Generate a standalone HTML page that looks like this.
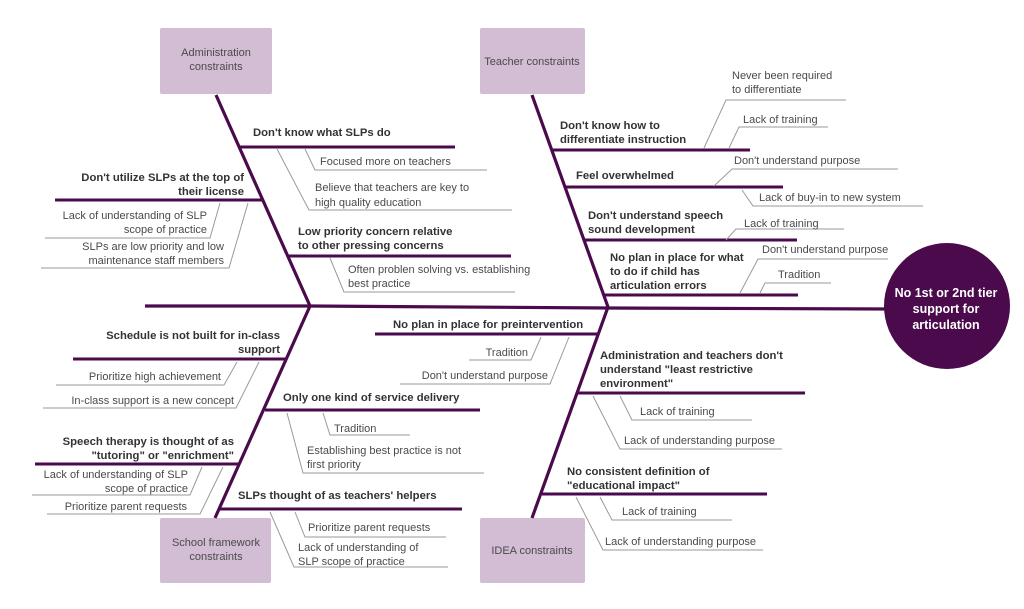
<!DOCTYPE html>
<html><head><meta charset="utf-8"><style>
html,body{margin:0;padding:0;background:#fff;}
svg{display:block;}
text{font-family:"Liberation Sans",sans-serif;font-size:11px;fill:#4a4a4a;}
.b{font-weight:bold;fill:#333;font-size:11.3px;}
.r{text-anchor:end;}
.c{text-anchor:middle;}
.m{stroke:#4a0a4c;stroke-width:3.2;fill:none;}
.k{stroke:#4a0a4c;stroke-width:3;fill:none;}
.t{stroke:#9a9a9a;stroke-width:1;fill:none;}
.box{fill:#d3bdd4;}
.bt{fill:#4a4a4a;font-size:11px;text-anchor:middle;}
</style></head><body>
<svg width="1024" height="609" viewBox="0 0 1024 609">
<rect class="box" x="160" y="28" width="112" height="66" rx="2"/>
<text class="bt" x="216" y="56">Administration</text><text class="bt" x="216" y="70">constraints</text>
<rect class="box" x="480" y="28" width="105" height="66" rx="2"/>
<text class="bt" x="532" y="65">Teacher constraints</text>
<rect class="box" x="160" y="518" width="111" height="65" rx="2"/>
<text class="bt" x="216" y="546">School framework</text><text class="bt" x="216" y="560">constraints</text>
<rect class="box" x="480" y="518" width="105" height="65" rx="2"/>
<text class="bt" x="532" y="554">IDEA constraints</text>

<path class="m" d="M145 306 L310 306 L608 308 L890 309"/>
<path class="m" d="M216 95 L310 306 L215 518"/>
<path class="m" d="M532 95 L608 307 L532 518"/>
<circle cx="947" cy="306" r="63" fill="#4a0a4c"/>
<text class="c" x="946" y="297" style="fill:#fff;font-weight:bold;font-size:12.5px">No 1st or 2nd tier</text>
<text class="c" x="946" y="313" style="fill:#fff;font-weight:bold;font-size:12.5px">support for</text>
<text class="c" x="946" y="329" style="fill:#fff;font-weight:bold;font-size:12.5px">articulation</text>

<text class="b" x="253" y="136">Don't know what SLPs do</text>
<path class="k" d="M240 147 L455 147"/>
<path class="t" d="M305 149 L315 170 L487 170"/><text x="320" y="165">Focused more on teachers</text>
<path class="t" d="M277 149 L309 210 L512 210"/><text x="315" y="191">Believe that teachers are key to</text><text x="315" y="206">high quality education</text>

<text class="b r" x="244" y="181">Don't utilize SLPs at the top of</text><text class="b r" x="244" y="195">their license</text>
<path class="k" d="M55 200 L262 200"/>
<path class="t" d="M220 203 L210 238 L45 238"/><text class="r" x="207" y="219">Lack of understanding of SLP</text><text class="r" x="207" y="233">scope of practice</text>
<path class="t" d="M248 203 L229 268 L41 268"/><text class="r" x="224" y="250">SLPs are low priority and low</text><text class="r" x="224" y="264">maintenance staff members</text>

<text class="b" x="298" y="235">Low priority concern relative</text><text class="b" x="298" y="249">to other pressing concerns</text>
<path class="k" d="M288 256 L511 256"/>
<path class="t" d="M330 258 L344 292 L515 292"/><text x="348" y="273">Often problen solving vs. establishing</text><text x="348" y="287">best practice</text>

<text class="b" x="560" y="129">Don't know how to</text><text class="b" x="560" y="143">differentiate instruction</text>
<path class="k" d="M553 150 L750 150"/>
<path class="t" d="M704 148 L726 100 L846 100"/><text x="732" y="79">Never been required</text><text x="732" y="93">to differentiate</text>
<path class="t" d="M729 148 L739 127 L828 127"/><text x="743" y="123">Lack of training</text>
<text class="b" x="576" y="179">Feel overwhelmed</text>
<path class="k" d="M566 187 L783 187"/>
<path class="t" d="M714 186 L732 169 L898 169"/><text x="734" y="164">Don't understand purpose</text>
<path class="t" d="M742 190 L753 206 L923 206"/><text x="759" y="201">Lack of buy-in to new system</text>
<text class="b" x="588" y="219">Don't understand speech</text><text class="b" x="588" y="233">sound development</text>
<path class="k" d="M583 240 L797 240"/>
<path class="t" d="M726 240 L736 229 L844 229"/><text x="744" y="227">Lack of training</text>
<text class="b" x="610" y="261">No plan in place for what</text><text class="b" x="610" y="275">to do if child has</text><text class="b" x="610" y="289">articulation errors</text>
<path class="k" d="M605 295 L798 295"/>
<path class="t" d="M740 293 L758 259 L888 259"/><text x="762" y="253">Don't understand purpose</text>
<path class="t" d="M760 293 L765 283 L831 283"/><text x="778" y="278">Tradition</text>

<text class="b r" x="280" y="339">Schedule is not built for in-class</text><text class="b r" x="280" y="353">support</text>
<path class="k" d="M73 359 L286 359"/>
<path class="t" d="M237 362 L224 385 L56 385"/><text class="r" x="221" y="380">Prioritize high achievement</text>
<path class="t" d="M259 362 L236 408 L43 408"/><text class="r" x="234" y="404">In-class support is a new concept</text>
<text class="b" x="283" y="401">Only one kind of service delivery</text>
<path class="k" d="M265 410 L480 410"/>
<path class="t" d="M323 413 L330 435 L410 435"/><text x="334" y="432">Tradition</text>
<path class="t" d="M287 413 L303 473 L484 473"/><text x="307" y="454">Establishing best practice is not</text><text x="307" y="468">first priority</text>
<text class="b r" x="234" y="445">Speech therapy is thought of as</text><text class="b r" x="234" y="459">"tutoring" or "enrichment"</text>
<path class="k" d="M35 464 L240 464"/>
<path class="t" d="M202 467 L190 495 L32 495"/><text class="r" x="188" y="478">Lack of understanding of SLP</text><text class="r" x="188" y="492">scope of practice</text>
<path class="t" d="M223 467 L200 514 L47 514"/><text class="r" x="187" y="510">Prioritize parent requests</text>
<text class="b" x="238" y="499">SLPs thought of as teachers' helpers</text>
<path class="k" d="M218 509 L462 509"/>
<path class="t" d="M295 512 L305 537 L446 537"/><text x="308" y="531">Prioritize parent requests</text>
<path class="t" d="M270 512 L294 567 L448 567"/><text x="298" y="551">Lack of understanding of</text><text x="298" y="565">SLP scope of practice</text>

<text class="b" x="393" y="328">No plan in place for preintervention</text>
<path class="k" d="M375 334 L598 334"/>
<path class="t" d="M541 337 L531 360 L469 360"/><text class="r" x="528" y="356">Tradition</text>
<path class="t" d="M569 337 L550 384 L400 384"/><text class="r" x="548" y="379">Don't understand purpose</text>
<text class="b" x="600" y="359">Administration and teachers don't</text><text class="b" x="600" y="373">understand "least restrictive</text><text class="b" x="600" y="387">environment"</text>
<path class="k" d="M577 393 L805 393"/>
<path class="t" d="M620 396 L632 420 L752 420"/><text x="640" y="415">Lack of training</text>
<path class="t" d="M593 396 L620 449 L782 449"/><text x="624" y="444">Lack of understanding purpose</text>
<text class="b" x="567" y="475">No consistent definition of</text><text class="b" x="567" y="489">"educational impact"</text>
<path class="k" d="M542 494 L767 494"/>
<path class="t" d="M600 497 L612 520 L732 520"/><text x="622" y="515">Lack of training</text>
<path class="t" d="M576 497 L603 550 L763 550"/><text x="605" y="545">Lack of understanding purpose</text>
</svg>
</body></html>
